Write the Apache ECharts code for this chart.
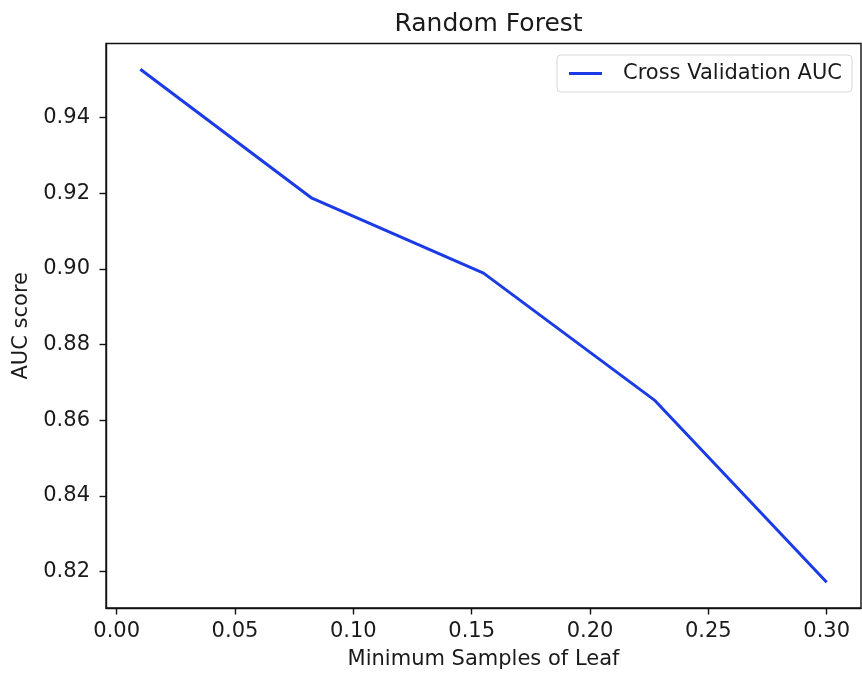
<!DOCTYPE html>
<html>
<head>
<meta charset="utf-8">
<script src="https://cdn.jsdelivr.net/npm/echarts@6/dist/echarts.min.js"></script>
<style>
html,body{margin:0;padding:0;background:#fff;}
#chart{width:862px;height:677px;}
</style>
</head>
<body>
<div id="chart"></div>
<script>
const minSamplesLeaf = [0.01, 0.0825, 0.155, 0.2275, 0.30];
const aucScores = [0.9528, 0.9187, 0.8989, 0.8652, 0.8172];
const xTicks = [0.00, 0.05, 0.10, 0.15, 0.20, 0.25, 0.30];
const yTicks = [0.82, 0.84, 0.86, 0.88, 0.90, 0.92, 0.94];
const seriesName = 'Cross Validation AUC';

const FONT = 'DejaVu Sans';
const FS = 21;
const chart = echarts.init(document.getElementById('chart'), null, {renderer: 'canvas'});
chart.setOption({
  backgroundColor: '#ffffff',
  animation: false,
  title: {
    text: 'Random Forest',
    left: 483.5,
    textAlign: 'center',
    top: 7,
    textStyle: {fontFamily: FONT, fontSize: 25, fontWeight: 'normal', color: '#1a1a1a'}
  },
  legend: {
    data: [seriesName],
    right: 10,
    top: 55,
    orient: 'vertical',
    icon: 'rect',
    itemWidth: 33,
    itemHeight: 3,
    padding: [8, 10, 8, 12],
    backgroundColor: 'rgba(255,255,255,0.8)',
    borderColor: '#d6d6d6',
    borderWidth: 1,
    borderRadius: 4,
    textStyle: {fontFamily: FONT, fontSize: FS, color: '#1a1a1a', padding: [0, 0, 0, 16]}
  },
  grid: {
    left: 106, right: 1, top: 43.5, bottom: 69,
    outerBoundsMode: 'none',
    containLabel: false,
    show: true, borderColor: '#111', borderWidth: 1.4, backgroundColor: 'transparent'
  },
  xAxis: {
    type: 'value',
    min: -0.0045,
    max: 0.3145,
    name: 'Minimum Samples of Leaf',
    nameLocation: 'middle',
    nameGap: 41,
    nameTextStyle: {fontFamily: FONT, fontSize: FS, color: '#1a1a1a'},
    splitLine: {show: false},
    axisLine: {show: true, onZero: false, lineStyle: {color: '#111', width: 1.4}},
    axisTick: {show: true, customValues: xTicks, length: 6.5, lineStyle: {color: '#111', width: 1.4}},
    axisLabel: {customValues: xTicks, margin: 13, fontFamily: FONT, fontSize: FS, color: '#1a1a1a',
      formatter: v => v.toFixed(2)}
  },
  yAxis: {
    type: 'value',
    min: 0.8104,
    max: 0.9596,
    name: 'AUC score',
    nameLocation: 'middle',
    nameGap: 73,
    nameRotate: 90,
    nameTextStyle: {fontFamily: FONT, fontSize: FS, color: '#1a1a1a'},
    splitLine: {show: false},
    axisLine: {show: true, onZero: false, lineStyle: {color: '#111', width: 1.4}},
    axisTick: {show: true, customValues: yTicks, length: 6.5, lineStyle: {color: '#111', width: 1.4}},
    axisLabel: {customValues: yTicks, margin: 16, fontFamily: FONT, fontSize: FS, color: '#1a1a1a',
      formatter: v => v.toFixed(2)}
  },
  series: [{
    name: seriesName,
    type: 'line',
    data: minSamplesLeaf.map((x, i) => [x, aucScores[i]]),
    showSymbol: false,
    symbol: 'none',
    color: '#1b3be6',
    lineStyle: {color: '#1b3be6', width: 3},
    z: 3
  }]
});
</script>
</body>
</html>
